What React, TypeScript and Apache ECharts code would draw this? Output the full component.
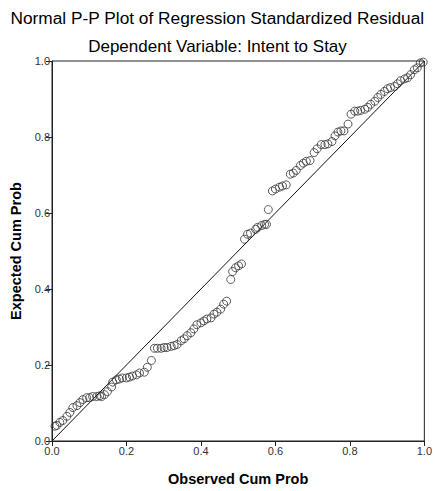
import React, { useEffect, useRef } from "react";
import * as echarts from "echarts";

const titleText = "Normal P-P Plot of Regression Standardized Residual";
const subtitleText = "Dependent Variable: Intent to Stay";
const xAxisName = "Observed Cum Prob";
const yAxisName = "Expected Cum Prob";

const observed = [
  0.008, 0.013, 0.021, 0.029, 0.04, 0.048, 0.056, 0.067, 0.075, 0.083,
  0.093, 0.101, 0.109, 0.12, 0.128, 0.133, 0.141, 0.149, 0.16, 0.163,
  0.173, 0.181, 0.189, 0.2, 0.208, 0.216, 0.227, 0.235, 0.248, 0.256,
  0.267, 0.275, 0.283, 0.293, 0.301, 0.309, 0.32, 0.328, 0.336, 0.347,
  0.355, 0.363, 0.373, 0.381, 0.389, 0.4, 0.408, 0.416, 0.427, 0.435,
  0.443, 0.453, 0.461, 0.469, 0.48, 0.485, 0.493, 0.501, 0.509, 0.517,
  0.525, 0.533, 0.547, 0.552, 0.563, 0.571, 0.576, 0.581, 0.592, 0.6,
  0.611, 0.619, 0.629, 0.64, 0.648, 0.656, 0.667, 0.675, 0.683, 0.693,
  0.704, 0.712, 0.723, 0.733, 0.741, 0.752, 0.76, 0.768, 0.776, 0.784,
  0.795, 0.803, 0.813, 0.821, 0.829, 0.84, 0.848, 0.856, 0.867, 0.875,
  0.883, 0.893, 0.901, 0.909, 0.92, 0.928, 0.936, 0.947, 0.955, 0.963,
  0.973, 0.981, 0.989, 0.997,
];

const expected = [
  0.039, 0.041, 0.049, 0.054, 0.065, 0.075, 0.088, 0.093, 0.101, 0.109,
  0.114, 0.114, 0.117, 0.117, 0.119, 0.117, 0.122, 0.13, 0.142, 0.155,
  0.161, 0.163, 0.166, 0.166, 0.168, 0.171, 0.174, 0.179, 0.181, 0.194,
  0.212, 0.244, 0.244, 0.244, 0.246, 0.246, 0.249, 0.251, 0.254, 0.264,
  0.269, 0.277, 0.285, 0.295, 0.306, 0.311, 0.316, 0.321, 0.324, 0.334,
  0.339, 0.347, 0.36, 0.368, 0.425, 0.446, 0.456, 0.461, 0.466, 0.531,
  0.544, 0.547, 0.557, 0.562, 0.567, 0.57, 0.57, 0.609, 0.658, 0.663,
  0.668, 0.671, 0.674, 0.702, 0.705, 0.712, 0.725, 0.731, 0.736, 0.738,
  0.759, 0.769, 0.78, 0.78, 0.782, 0.788, 0.803, 0.813, 0.816, 0.816,
  0.834, 0.86, 0.868, 0.868, 0.87, 0.873, 0.878, 0.886, 0.894, 0.904,
  0.912, 0.92, 0.927, 0.93, 0.933, 0.94, 0.948, 0.953, 0.956, 0.964,
  0.977, 0.982, 0.995, 0.997,
];

const referenceLine = [
  [0, 0],
  [1, 1],
];

export default function App() {
  const ref = useRef<HTMLDivElement>(null);

  useEffect(() => {
    if (!ref.current) return;
    const chart = echarts.init(ref.current, null, { renderer: "svg" });
    const font = "'Liberation Sans', Arial, sans-serif";
    chart.setOption({
      animation: false,
      backgroundColor: "#ffffff",
      graphic: [
        {
          type: "text",
          left: "center",
          top: 9,
          style: {
            text: titleText,
            fontFamily: font,
            fontSize: 17.3,
            fill: "#000",
          },
        },
        {
          type: "text",
          left: "center",
          top: 38,
          style: {
            text: subtitleText,
            fontFamily: font,
            fontSize: 17,
            fill: "#000",
          },
        },
      ],
      grid: {
        left: 52,
        top: 61,
        width: 375,
        height: 386,
        show: true,
        borderColor: "#222",
        borderWidth: 1,
        backgroundColor: "transparent",
      },
      xAxis: {
        type: "value",
        min: 0,
        max: 1,
        interval: 0.2,
        name: xAxisName,
        nameLocation: "middle",
        nameGap: 30,
        nameTextStyle: {
          fontFamily: font,
          fontSize: 14.5,
          fontWeight: "bold",
          color: "#000",
        },
        axisLine: { show: true, lineStyle: { color: "#222", width: 1 } },
        axisTick: { show: true, length: 5, lineStyle: { color: "#222" } },
        axisLabel: {
          fontFamily: font,
          fontSize: 11,
          color: "#333",
          margin: 4,
          formatter: (v: number) => v.toFixed(1),
        },
        splitLine: { show: false },
      },
      yAxis: {
        type: "value",
        min: 0,
        max: 1,
        interval: 0.2,
        name: yAxisName,
        nameLocation: "middle",
        nameGap: 26,
        nameRotate: 90,
        nameTextStyle: {
          fontFamily: font,
          fontSize: 14.5,
          fontWeight: "bold",
          color: "#000",
        },
        axisLine: { show: true, lineStyle: { color: "#222", width: 1 } },
        axisTick: { show: true, length: 6, lineStyle: { color: "#222" } },
        axisLabel: {
          fontFamily: font,
          fontSize: 11,
          color: "#333",
          margin: 2,
          formatter: (v: number) => v.toFixed(1),
        },
        splitLine: { show: false },
      },
      series: [
        {
          type: "line",
          data: referenceLine,
          symbol: "none",
          lineStyle: { color: "#111", width: 1 },
          silent: true,
          z: 1,
        },
        {
          type: "scatter",
          data: observed.map((x, i) => [x, expected[i]]),
          symbol: "circle",
          symbolSize: 8,
          itemStyle: {
            color: "rgba(255,255,255,0)",
            borderColor: "#333",
            borderWidth: 1,
          },
          z: 2,
        },
      ],
    });
    return () => chart.dispose();
  }, []);

  return (
    <div
      ref={ref}
      style={{ position: "fixed", left: 0, top: 0, width: 435, height: 491 }}
    />
  );
}
